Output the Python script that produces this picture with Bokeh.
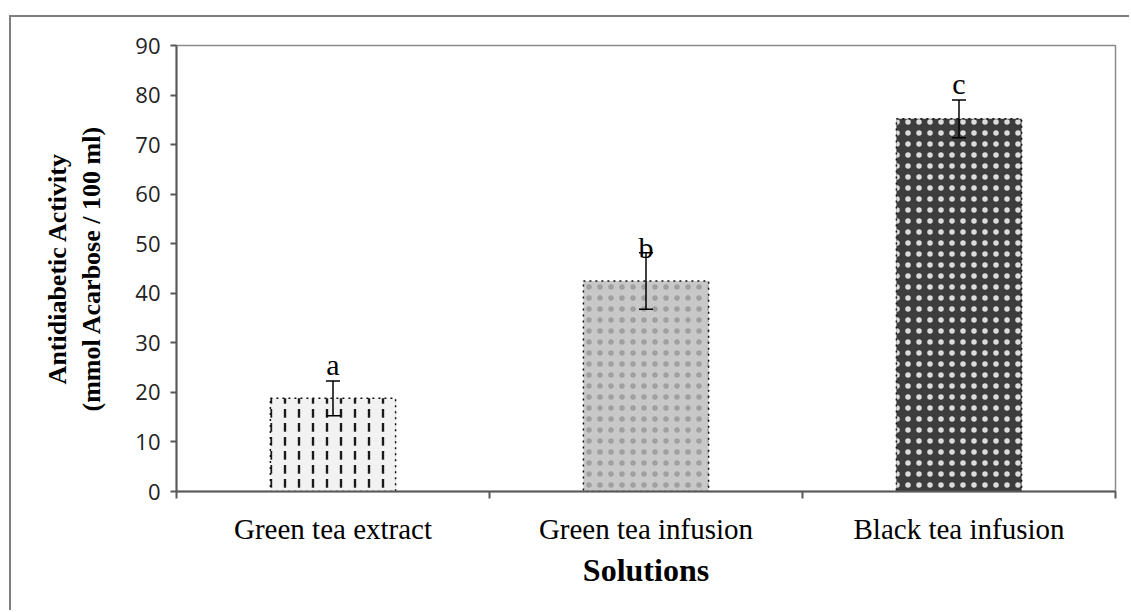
from bokeh.plotting import figure
from bokeh.models import (ColumnDataSource, Whisker, TeeHead, FixedTicker,
                          SingleIntervalTicker, Range1d)
from bokeh.core.properties import value
from bokeh.embed import file_html
from bokeh.resources import INLINE

# ---- data ----
categories = ["Green tea extract", "Green tea infusion", "Black tea infusion"]
activity = [18.8, 42.5, 75.2]
error = [3.5, 5.7, 3.8]
letters = ["a", "b", "c"]
letter_y = [22.2, 46.0, 79.0]
fill_colors = ["#f2f2f2", "#c8c8c8", "#3d3d3d"]
hatch_patterns = [":", ".", "."]
hatch_colors = ["#1a1a1a", "#a0a0a0", "#dcdcdc"]
hatch_scales = [14, 11, 11]
y_ticks_interval = 10

xpos = [i + 0.5 for i in range(len(categories))]
src = ColumnDataSource(dict(
    x=xpos, top=activity,
    upper=[a + e for a, e in zip(activity, error)],
    lower=[a - e for a, e in zip(activity, error)],
    fill=fill_colors, hatch=hatch_patterns, hcol=hatch_colors, hs=hatch_scales,
    ly=letter_y, lt=letters,
))

p = figure(width=1120, height=595, x_range=Range1d(0, 3), y_range=Range1d(0, 90),
           output_backend="svg", toolbar_location=None,
           min_border_left=165, min_border_right=16, min_border_top=28,
           min_border_bottom=121)
p.styles = {"margin-left": "9px", "margin-top": "15px",
            "border-left": "2px solid #7f7f7f", "border-top": "2px solid #7f7f7f"}

p.vbar(x="x", top="top", width=0.4, source=src, fill_color="fill",
       line_color="#111111", line_width=1.5, line_dash="dotted",
       hatch_pattern="hatch", hatch_color="hcol", hatch_scale="hs", hatch_weight=2.4)

w = Whisker(base="x", upper="upper", lower="lower", source=src,
            line_color="black", line_width=1.5, level="overlay",
            upper_head=TeeHead(size=14, line_color="black", line_width=1.5),
            lower_head=TeeHead(size=14, line_color="black", line_width=1.5))
p.add_layout(w)

p.text(x="x", y="ly", text="lt", source=src, text_align="center",
       text_baseline="bottom", text_font=value("Liberation Serif"),
       text_font_size="30px", text_color="black")

p.xgrid.visible = False
p.ygrid.visible = False
p.outline_line_color = "#8c8c8c"
p.outline_line_width = 1.5

# y axis
ya = p.yaxis[0]
ya.ticker = SingleIntervalTicker(interval=y_ticks_interval, num_minor_ticks=0)
ya.axis_line_color = "#595959"
ya.axis_line_width = 2
ya.major_tick_line_color = "#595959"
ya.major_tick_line_width = 2
ya.major_tick_out = 6
ya.major_tick_in = 0
ya.minor_tick_out = 0
ya.major_label_text_font = "Open Sans"
ya.major_label_text_font_size = "22px"
ya.major_label_text_color = "#222222"
ya.major_label_standoff = 10
ya.axis_label = "Antidiabetic Activity\n(mmol Acarbose / 100 ml)"
ya.axis_label_text_font = "Liberation Serif"
ya.axis_label_text_font_style = "bold"
ya.axis_label_text_font_size = "26px"
ya.axis_label_text_color = "black"
ya.axis_label_standoff = 26

# x axis
xa = p.xaxis[0]
xa.ticker = FixedTicker(ticks=xpos, minor_ticks=list(range(len(categories) + 1)))
xa.major_label_overrides = {x: c for x, c in zip(xpos, categories)}
xa.axis_line_color = "#595959"
xa.axis_line_width = 2
xa.major_tick_out = 0
xa.major_tick_in = 0
xa.minor_tick_out = 7
xa.minor_tick_in = 0
xa.minor_tick_line_color = "#595959"
xa.minor_tick_line_width = 2
xa.major_label_text_font = "Liberation Serif"
xa.major_label_text_font_size = "29px"
xa.major_label_text_color = "black"
xa.major_label_standoff = 14
xa.axis_label = "Solutions"
xa.axis_label_text_font = "Liberation Serif"
xa.axis_label_text_font_style = "bold"
xa.axis_label_text_font_size = "32px"
xa.axis_label_text_color = "black"
xa.axis_label_standoff = 4

open("out.html", "w").write(file_html(p, INLINE))
